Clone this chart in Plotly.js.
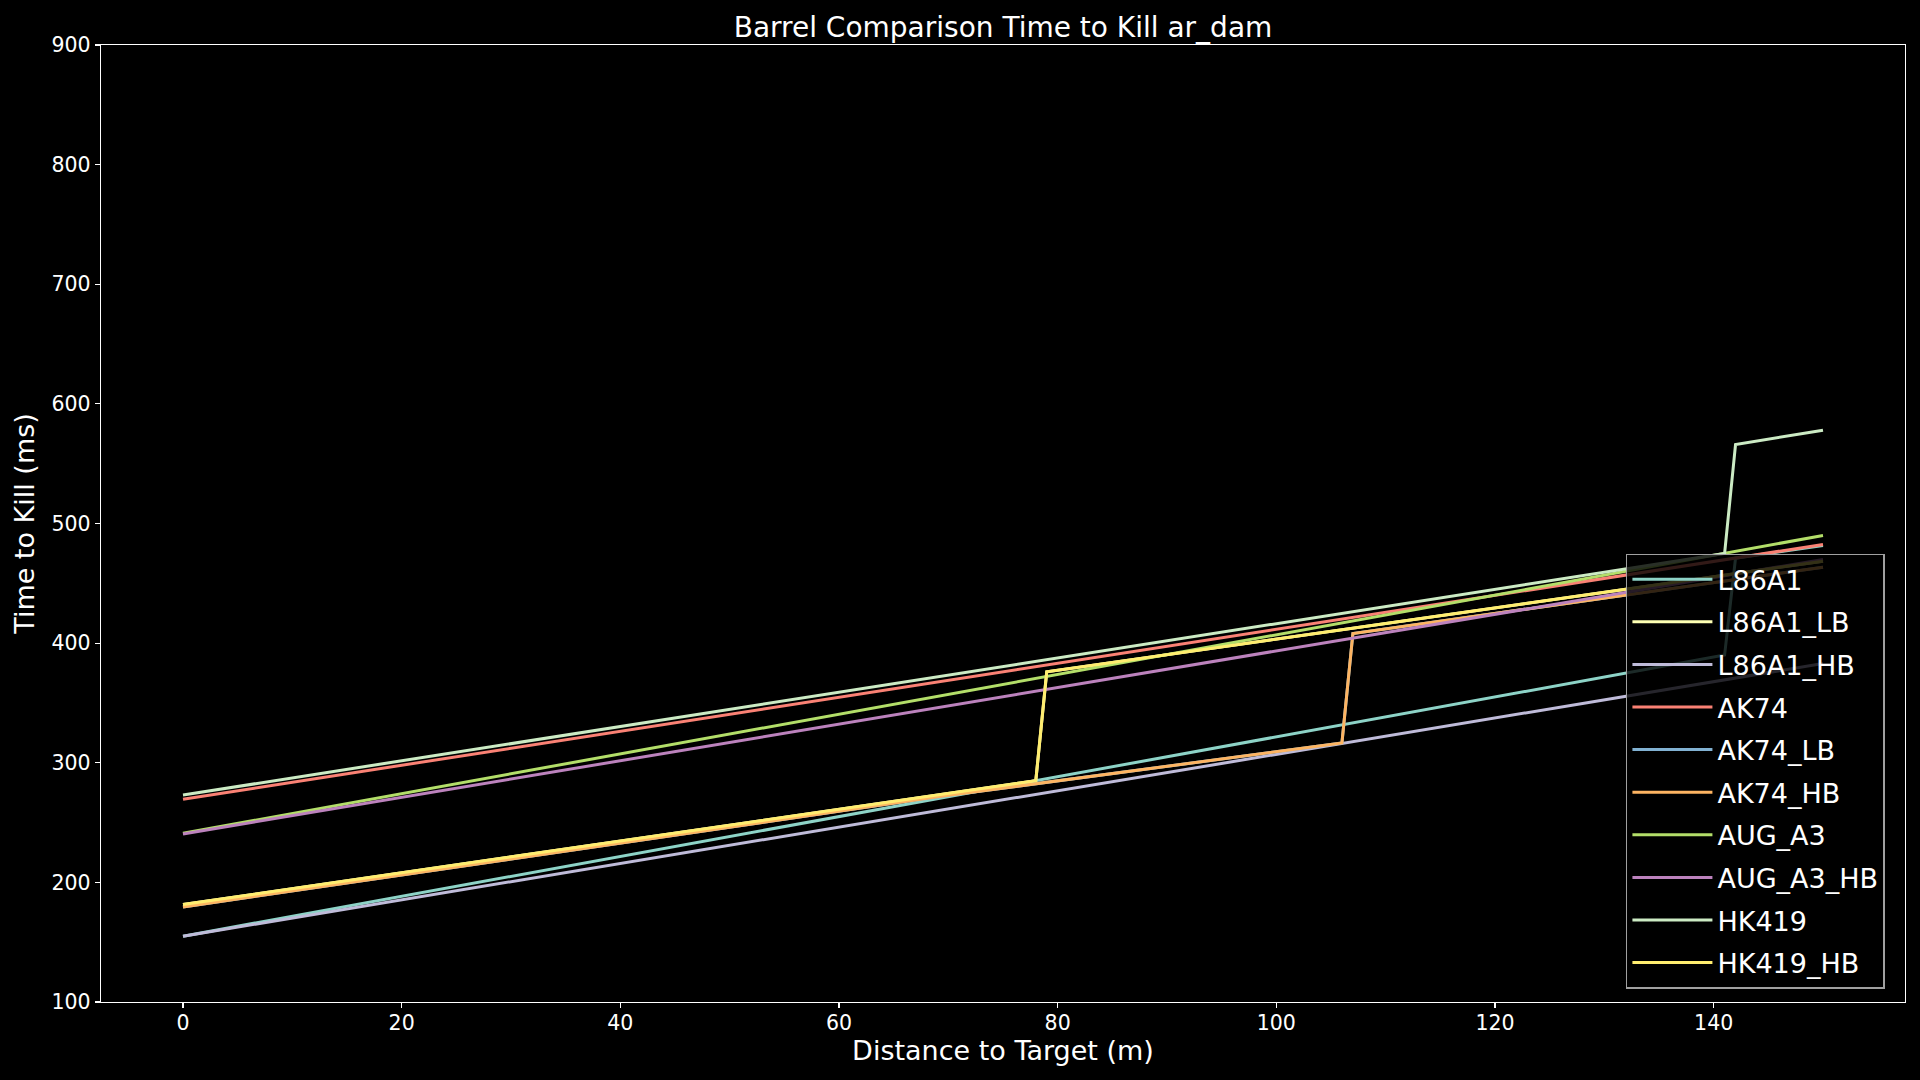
<!DOCTYPE html>
<html>
<head>
<meta charset="utf-8">
<script src="https://cdn.plot.ly/plotly-3.0.1.min.js"></script>
<style>html,body{margin:0;padding:0;background:#000;}#chart{width:1920px;height:1080px;}</style>
</head>
<body>
<div id="chart"></div>
<script>
// Series names and colours
const seriesNames = ["L86A1", "L86A1_LB", "L86A1_HB", "AK74", "AK74_LB", "AK74_HB", "AUG_A3", "AUG_A3_HB", "HK419", "HK419_HB"];
const seriesColors = ["#8dd3c7", "#feffb3", "#bfbbd9", "#fa8174", "#81b1d2", "#fdb462", "#b3de69", "#bc82bd", "#ccebc4", "#ffed6f"];

// Distance (m) breakpoints and Time to Kill (ms) values
const L86A1_x = [0, 141, 142, 150];
const L86A1_y = [155, 390, 471, 481.5];
const L86A1_LB_x = [0, 78, 79, 150];
const L86A1_LB_y = [181.5, 285, 376, 468.5];
const L86A1_HB_x = [0, 150];
const L86A1_HB_y = [155, 383];
const AK74_x = [0, 150];
const AK74_y = [269.5, 482.5];
const AK74_LB_x = [0, 69, 106, 107, 150];
const AK74_LB_y = [179.5, 271.5, 316.5, 408, 463.5];
const AK74_HB_x = [0, 69, 106, 107, 150];
const AK74_HB_y = [179.5, 271.5, 316.5, 408, 463.5];
const AUG_A3_x = [0, 150];
const AUG_A3_y = [241, 490];
const AUG_A3_HB_x = [0, 150];
const AUG_A3_HB_y = [240.5, 470];
const HK419_x = [0, 141, 142, 150];
const HK419_y = [273, 475, 566, 578];
const HK419_HB_x = [0, 78, 79, 150];
const HK419_HB_y = [181.5, 285, 376, 468.5];

const xs = [L86A1_x, L86A1_LB_x, L86A1_HB_x, AK74_x, AK74_LB_x, AK74_HB_x, AUG_A3_x, AUG_A3_HB_x, HK419_x, HK419_HB_x];
const ys = [L86A1_y, L86A1_LB_y, L86A1_HB_y, AK74_y, AK74_LB_y, AK74_HB_y, AUG_A3_y, AUG_A3_HB_y, HK419_y, HK419_HB_y];

const yTicks = [100, 200, 300, 400, 500, 600, 700, 800, 900];
const xTicks = [0, 20, 40, 60, 80, 100, 120, 140];

const font = "DejaVu Sans, sans-serif";

const traces = seriesNames.map((n, i) => ({
  type: "scatter",
  mode: "lines",
  name: n,
  x: xs[i],
  y: ys[i],
  legendgroup: n,
  line: {color: seriesColors[i], width: 3}
}));

const layout = {
  width: 1920,
  height: 1080,
  paper_bgcolor: "#000",
  plot_bgcolor: "#000",
  margin: {l: 101, r: 15, t: 45, b: 78, pad: 0},
  font: {family: font, color: "#fff", size: 20},
  title: {
    text: "Barrel Comparison Time to Kill ar_dam",
    font: {family: font, size: 28, color: "#fff"},
    x: 0.5, xref: "paper", xanchor: "center",
    y: 1 - 27/1080, yref: "container", yanchor: "middle"
  },
  xaxis: {
    range: [-7.5, 157.5],
    tickvals: xTicks,
    ticktext: xTicks.map(String),
    showgrid: false, zeroline: false,
    showline: true, mirror: true, linecolor: "#fff", linewidth: 1.3,
    ticks: "outside", ticklen: 5, tickwidth: 1.2, tickcolor: "#fff",
    ticklabelstandoff: -3,
    tickfont: {family: font, size: 20.5, color: "#fff"},
    title: {text: "Distance to Target (m)", font: {family: font, size: 27, color: "#fff"}, standoff: 4}
  },
  yaxis: {
    range: [100, 900],
    tickvals: yTicks,
    ticktext: yTicks.map(String),
    showgrid: false, zeroline: false,
    showline: true, mirror: true, linecolor: "#fff", linewidth: 1.3,
    ticks: "outside", ticklen: 5, tickwidth: 1.2, tickcolor: "#fff",
    tickfont: {family: font, size: 20.5, color: "#fff"},
    title: {text: "Time to Kill (ms)", font: {family: font, size: 27, color: "#fff"}, standoff: 9}
  },
  showlegend: true,
  legend: {
    x: 0.8453, xanchor: "left",
    y: 0.4685, yanchor: "top",
    bgcolor: "rgba(0,0,0,0.8)",
    bordercolor: "#a0a0a0",
    borderwidth: 1.5,
    font: {family: font, size: 27, color: "#fff"},
    traceorder: "grouped",
    tracegroupgap: 4.5,
    itemwidth: 80
  }
};

Plotly.newPlot("chart", traces, layout, {staticPlot: true});
</script>
</body>
</html>
